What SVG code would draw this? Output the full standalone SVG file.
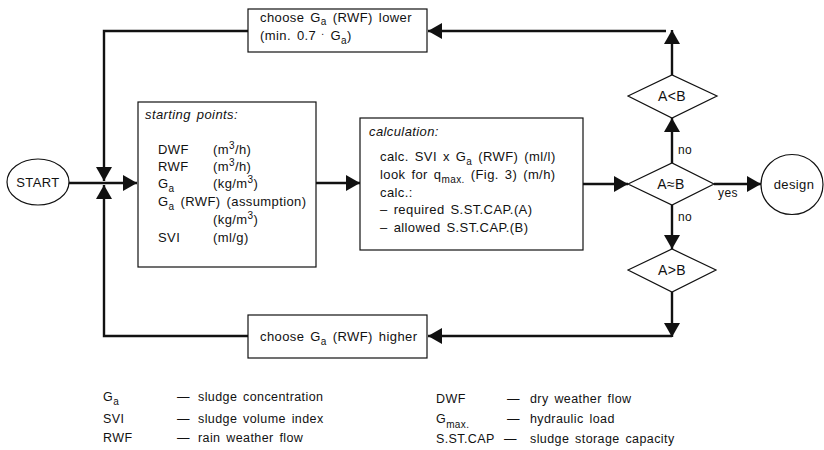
<svg xmlns="http://www.w3.org/2000/svg" width="824" height="450" viewBox="0 0 824 450">
<style>
text{font-family:"Liberation Sans",Arial,sans-serif;font-size:13px;fill:#111;letter-spacing:0.4px;word-spacing:2px}
.it{font-style:italic}
.lg{font-size:12.5px}
.box{fill:#fff;stroke:#111;stroke-width:1.2}
.conn{fill:none;stroke:#111;stroke-width:2.4}
.sub{font-size:10px}
.lbl{font-size:12px}
.dt{font-size:14px}
</style>
<defs>
<marker id="ah" viewBox="0 0 14 16" refX="14" refY="8" markerWidth="14" markerHeight="16" markerUnits="userSpaceOnUse" orient="auto">
<path d="M0,0 L14,8 L0,16 Z" fill="#111"/>
</marker>
</defs>
<rect width="824" height="450" fill="#fff"/>
<g id="connectors">
<path class="conn" d="M69,183 H137" marker-end="url(#ah)"/>
<path class="conn" d="M248,31 H104 V181" marker-end="url(#ah)"/>
<path class="conn" d="M248,336 H104 V185" marker-end="url(#ah)"/>
<path class="conn" d="M316,183 H360" marker-end="url(#ah)"/>
<path class="conn" d="M583,184 H628" marker-end="url(#ah)"/>
<path class="conn" d="M714,184 H761" marker-end="url(#ah)"/>
<path class="conn" d="M672,163 V118" marker-end="url(#ah)"/>
<path class="conn" d="M672,205 V249" marker-end="url(#ah)"/>
<path class="conn" d="M672,75 V30" marker-end="url(#ah)"/>
<path class="conn" d="M666,31 H428" marker-end="url(#ah)"/>
<path class="conn" d="M672,292 V337" marker-end="url(#ah)"/>
<path class="conn" d="M672,336 H428" marker-end="url(#ah)"/>
<text x="678" y="154" class="lbl">no</text>
<text x="678" y="221" class="lbl">no</text>
<text x="718" y="197" class="lbl">yes</text>
</g>
<g id="start">
<ellipse cx="38" cy="182" rx="31" ry="23" class="box"/>
<text x="38" y="187" text-anchor="middle">START</text>
</g>
<g id="lower">
<rect x="248" y="9" width="179" height="43" class="box"/>
<text x="260" y="22">choose  G<tspan class="sub" dy="3">a</tspan><tspan dy="-3"> (RWF) lower</tspan></text>
<text x="260" y="40">(min.  0.7<tspan dy="-5" class="sub"> .</tspan><tspan dy="5"> G</tspan><tspan class="sub" dy="4">a</tspan><tspan dy="-4">)</tspan></text>
</g>
<g id="higher">
<rect x="248" y="315" width="179" height="43" class="box"/>
<text x="260" y="341">choose  G<tspan class="sub" dy="4">a</tspan><tspan dy="-4"> (RWF) higher</tspan></text>
</g>
<g id="starting">
<rect x="138" y="102" width="178" height="165" class="box"/>
<text x="145" y="119" class="it">starting points:</text>
<text x="158" y="154">DWF</text><text x="213" y="154">(m<tspan class="sub" dy="-5">3</tspan><tspan dy="5">/h)</tspan></text>
<text x="158" y="171">RWF</text><text x="213" y="171">(m<tspan class="sub" dy="-5">3</tspan><tspan dy="5">/h)</tspan></text>
<text x="158" y="188">G<tspan class="sub" dy="4">a</tspan></text><text x="213" y="188">(kg/m<tspan class="sub" dy="-5">3</tspan><tspan dy="5">)</tspan></text>
<text x="158" y="206">G<tspan class="sub" dy="4">a</tspan><tspan dy="-4"> (RWF) (assumption)</tspan></text>
<text x="213" y="224">(kg/m<tspan class="sub" dy="-5">3</tspan><tspan dy="5">)</tspan></text>
<text x="158" y="242">SVI</text><text x="213" y="242">(ml/g)</text>
</g>
<g id="calculation">
<rect x="360" y="118" width="223" height="132" class="box"/>
<text x="369" y="136" class="it">calculation:</text>
<text x="380" y="161">calc.  SVI x G<tspan class="sub" dy="4">a</tspan><tspan dy="-4"> (RWF)  (ml/l)</tspan></text>
<text x="380" y="179">look for q<tspan class="sub" dy="4">max.</tspan><tspan dy="-4"> (Fig. 3)  (m/h)</tspan></text>
<text x="380" y="197">calc.:</text>
<text x="380" y="214">–  required  S.ST.CAP.(A)</text>
<text x="380" y="232">–  allowed  S.ST.CAP.(B)</text>
</g>
<g id="dless">
<polygon points="628,96 672,75 717,96 672,118" class="box"/>
<text x="672" y="101" text-anchor="middle" class="dt">A&lt;B</text>
</g>
<g id="dapprox">
<polygon points="628,184 672,163 714,184 672,205" class="box"/>
<text x="671" y="189" text-anchor="middle" class="dt">A≈B</text>
</g>
<g id="dmore">
<polygon points="628,270 672,249 716,270 672,292" class="box"/>
<text x="672" y="275" text-anchor="middle" class="dt">A&gt;B</text>
</g>
<g id="design">
<ellipse cx="792" cy="184.5" rx="31" ry="30" class="box"/>
<text x="794" y="189" text-anchor="middle">design</text>
</g>
<g id="legend">
<text x="103" y="401" class="lg">G<tspan class="sub" dy="4">a</tspan></text>
<text x="177" y="401" class="lg">—</text><text x="198" y="401" class="lg">sludge concentration</text>
<text x="103" y="423" class="lg">SVI</text>
<text x="177" y="423" class="lg">—</text><text x="198" y="423" class="lg">sludge volume index</text>
<text x="103" y="442" class="lg">RWF</text>
<text x="177" y="442" class="lg">—</text><text x="198" y="442" class="lg">rain weather flow</text>
<text x="436" y="403" class="lg">DWF</text>
<text x="507" y="403" class="lg">—</text><text x="530" y="403" class="lg">dry weather flow</text>
<text x="436" y="423" class="lg">G<tspan class="sub" dy="5">max.</tspan></text>
<text x="507" y="423" class="lg">—</text><text x="530" y="423" class="lg">hydraulic load</text>
<text x="436" y="443" class="lg">S.ST.CAP</text>
<text x="504" y="443" class="lg">—</text><text x="530" y="443" class="lg">sludge storage capacity</text>
</g>
</svg>
